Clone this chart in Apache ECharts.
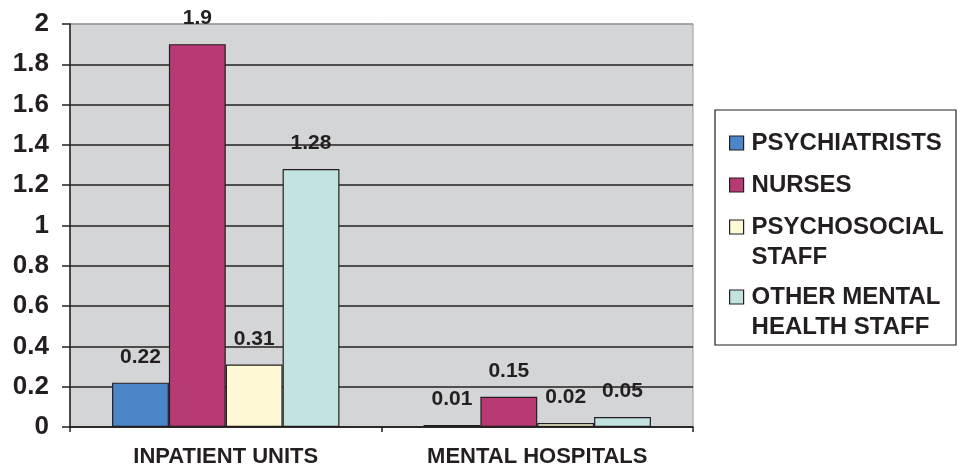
<!DOCTYPE html>
<html><head><meta charset="utf-8">
<script src="https://cdn.jsdelivr.net/npm/echarts@6/dist/echarts.min.js"></script>
<style>html,body{margin:0;padding:0;background:#fff}#c{width:958px;height:472px}</style>
</head><body><div id="c"></div>
<script>
const categories = ['INPATIENT UNITS', 'MENTAL HOSPITALS'];
const seriesNames = ['PSYCHIATRISTS', 'NURSES', 'PSYCHOSOCIAL STAFF', 'OTHER MENTAL HEALTH STAFF'];
const legendLabels = ['PSYCHIATRISTS', 'NURSES', 'PSYCHOSOCIAL\nSTAFF', 'OTHER MENTAL\nHEALTH STAFF'];
const psychiatrists = [0.22, 0.01];
const nurses = [1.9, 0.15];
const psychosocial = [0.31, 0.02];
const otherStaff = [1.28, 0.05];
const yMin = 0, yMax = 2, yStep = 0.2;

const seriesValues = [psychiatrists, nurses, psychosocial, otherStaff];
const colors = ['#4a86c8', '#b83a75', '#fffad6', '#c2e3e0'];
const dark = '#231f20';
const font = '"Liberation Sans", Arial, sans-serif';

const chart = echarts.init(document.getElementById('c'), null, {renderer: 'canvas'});

const legendCenters = [143, 185, 227, 297];
const legends = seriesNames.map((name, i) => {
  const multi = legendLabels[i].indexOf('\n') >= 0;
  return {
    orient: 'vertical',
    left: 729,
    top: multi ? legendCenters[i] - 45 : legendCenters[i] - 15,
    padding: 0,
    itemWidth: 14,
    itemHeight: 14,
    icon: 'rect',
    selectedMode: false,
    data: [{
      name: name,
      itemStyle: {color: colors[i], borderColor: dark, borderWidth: 1.2}
    }],
    // a blank first line keeps the first text line level with the icon
    formatter: () => multi ? '\u00a0\n' + legendLabels[i] : legendLabels[i],
    textStyle: {
      fontFamily: font, fontWeight: 'bold', fontSize: 24, color: dark,
      lineHeight: 30, padding: [0, 0, 0, 3]
    }
  };
});

const nSplit = Math.round((yMax - yMin) / yStep) + 1;
const splitColors = [];
for (let k = 0; k < nSplit; k++) splitColors.push(k === nSplit - 1 ? '#9a9a9a' : dark);

chart.setOption({
  animation: false,
  backgroundColor: '#ffffff',
  legend: legends,
  graphic: [{
    type: 'rect',
    shape: {x: 715, y: 110, width: 241, height: 235},
    style: {fill: 'none', stroke: dark, lineWidth: 1.2}
  }],
  grid: {
    left: 70, right: 265, top: 24, bottom: 45,
    show: true, backgroundColor: '#d4d5d7', borderColor: '#9a9a9a', borderWidth: 1
  },
  xAxis: {
    type: 'category',
    data: categories,
    axisLine: {lineStyle: {color: dark, width: 1.5}},
    axisTick: {show: true, length: 5, lineStyle: {color: dark, width: 1.5}},
    axisLabel: {fontFamily: font, fontWeight: 'bold', fontSize: 22, color: dark, margin: 19}
  },
  yAxis: {
    type: 'value',
    min: yMin, max: yMax, interval: yStep,
    axisLine: {show: true, lineStyle: {color: dark, width: 1.5}},
    axisTick: {show: true, length: 8, lineStyle: {color: dark, width: 1.5}},
    splitLine: {show: true, lineStyle: {color: splitColors, width: 1.5}},
    axisLabel: {
      fontFamily: font, fontWeight: 'bold', fontSize: 26, color: dark, margin: 21,
      formatter: v => String(+v.toFixed(1))
    }
  },
  series: seriesNames.map((name, i) => ({
    name: name,
    type: 'bar',
    data: seriesValues[i],
    barGap: '0%',
    barCategoryGap: '27%',
    itemStyle: {color: colors[i], borderColor: dark, borderWidth: 1.2},
    label: {
      show: true, position: 'top', distance: 15,
      fontFamily: font, fontWeight: 'bold', fontSize: 21, color: dark,
      formatter: p => String(p.value)
    }
  }))
});
</script>
</body></html>
